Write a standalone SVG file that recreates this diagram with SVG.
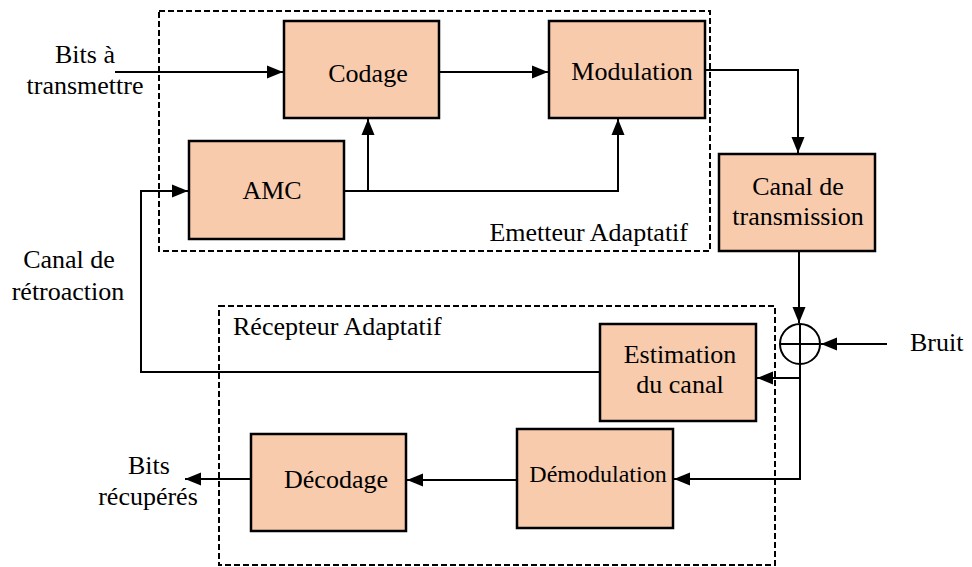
<svg xmlns="http://www.w3.org/2000/svg" width="972" height="567" viewBox="0 0 972 567">
<defs>
<marker id="arr" markerUnits="userSpaceOnUse" markerWidth="16" markerHeight="14" refX="16" refY="7" orient="auto">
<path d="M0,0.5 L16,7 L0,13.5 z" fill="#000"/>
</marker>
<style>
.box{fill:#F8CBAD;stroke:#000;stroke-width:2.5}
.grp{fill:none;stroke:#000;stroke-width:2;stroke-dasharray:6,3}
.ln{fill:none;stroke:#000;stroke-width:2}
.ar{fill:none;stroke:#000;stroke-width:2;marker-end:url(#arr)}
.c{text-anchor:middle}
</style>
</defs>
<rect width="972" height="567" fill="#fff"/>
<g font-family="'Liberation Serif', 'Times New Roman', 'DejaVu Serif', serif" font-size="26" fill="#000">
<g id="emetteur">
<rect class="grp" x="159" y="11" width="551" height="240"/>
<text x="688" y="241" text-anchor="end">Emetteur Adaptatif</text>
</g>
<g id="recepteur">
<rect class="grp" x="219" y="306" width="556" height="259"/>
<text x="233" y="335">Récepteur Adaptatif</text>
</g>
<g id="codage">
<rect class="box" x="284" y="21" width="155" height="97"/>
<text class="c" x="368" y="82">Codage</text>
</g>
<g id="amc">
<rect class="box" x="189" y="141" width="155" height="98"/>
<text class="c" x="272" y="199">AMC</text>
</g>
<g id="modulation">
<rect class="box" x="549" y="21" width="156" height="97"/>
<text class="c" x="632" y="80">Modulation</text>
</g>
<g id="canal">
<rect class="box" x="719" y="154" width="156" height="97"/>
<text class="c" x="798" y="195">Canal de</text>
<text class="c" x="798" y="225">transmission</text>
</g>
<g id="somme">
<circle cx="800" cy="344" r="20" fill="#fff" stroke="#000" stroke-width="2"/>
<path class="ln" d="M780,344 H820 M800,324 V364"/>
</g>
<g id="estimation">
<rect class="box" x="600" y="324" width="156" height="97"/>
<text class="c" x="680" y="363">Estimation</text>
<text class="c" x="680" y="393">du canal</text>
</g>
<g id="demodulation">
<rect class="box" x="517" y="429" width="156" height="99"/>
<text class="c" x="598" y="482" font-size="24">Démodulation</text>
</g>
<g id="decodage">
<rect class="box" x="251" y="434" width="155" height="97"/>
<text class="c" x="336" y="488">Décodage</text>
</g>
<g id="labels">
<text class="c" x="85" y="63">Bits à</text>
<text class="c" x="85" y="94">transmettre</text>
<text class="c" x="69" y="268">Canal de</text>
<text class="c" x="68" y="300">rétroaction</text>
<text x="910" y="351">Bruit</text>
<text class="c" x="149" y="474">Bits</text>
<text class="c" x="148" y="505">récupérés</text>
</g>
</g>
<g id="connectors">
<path class="ar" d="M115,72 H283"/>
<path class="ar" d="M439,72 H548"/>
<path class="ar" d="M344,191 H618 V119"/>
<path class="ar" d="M368,191 V119"/>
<path class="ar" d="M705,70 H798 V153"/>
<path class="ar" d="M799,251 V323"/>
<path class="ar" d="M887,344 H821"/>
<path class="ar" d="M800,364 V479 H674"/>
<path class="ar" d="M800,378 H757"/>
<path class="ar" d="M600,372 H141 V191 H188"/>
<path class="ar" d="M517,480 H407"/>
<path class="ar" d="M251,479 H185"/>
</g>
</svg>
